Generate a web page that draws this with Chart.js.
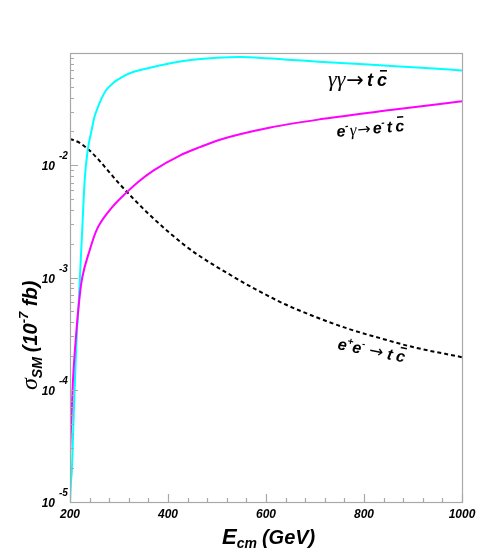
<!DOCTYPE html>
<html>
<head>
<meta charset="utf-8">
<script src="https://cdn.jsdelivr.net/npm/chart.js@4.4.1/dist/chart.umd.min.js"></script>
<style>
  html, body { margin: 0; padding: 0; background: #fff; }
</style>
</head>
<body>
<canvas id="chart" width="491" height="553"></canvas>
<script>
// gamma gamma -> t cbar
var ggEnergy = [200, 202, 204, 207, 210, 214, 218, 221, 225, 230, 236, 244, 250, 257, 265, 274, 290, 308, 330, 370, 410, 451, 500, 547, 600, 717, 800, 900, 1000];
var ggSigma  = [1.0e-5, 1.5e-5, 2.0e-5, 5.0e-5, 1.2e-4, 3.16e-4, 6.3e-4, 1.17e-3, 2.7e-3, 7.4e-3, 1.35e-2, 2.04e-2, 2.7e-2, 3.3e-2, 3.98e-2, 4.68e-2, 5.5e-2, 6.17e-2, 6.8e-2, 7.5e-2, 8.17e-2, 8.7e-2, 9.06e-2, 9.2e-2, 9.0e-2, 8.3e-2, 7.94e-2, 7.46e-2, 7.0e-2];

// e- gamma -> e- t cbar
var egEnergy = [200, 206, 213, 221, 225, 240, 254, 281, 315, 339, 370, 424, 465, 506, 609, 717, 854, 1000];
var egSigma  = [2.7e-5, 1.2e-4, 3.3e-4, 7.6e-4, 1.0e-3, 1.74e-3, 2.63e-3, 3.98e-3, 5.7e-3, 7.1e-3, 8.97e-3, 1.22e-2, 1.45e-2, 1.69e-2, 2.17e-2, 2.59e-2, 3.1e-2, 3.71e-2];

// e+ e- -> t cbar
var eeEnergy = [200, 220, 240, 260, 280, 300, 330, 360, 400, 430, 462, 520, 580, 640, 700, 770, 833, 900, 1000];
var eeSigma  = [1.72e-2, 1.58e-2, 1.35e-2, 1.10e-2, 8.7e-3, 6.9e-3, 5.0e-3, 3.7e-3, 2.57e-3, 2.0e-3, 1.58e-3, 1.10e-3, 7.8e-4, 5.75e-4, 4.47e-4, 3.47e-4, 2.88e-4, 2.40e-4, 1.95e-4];

var xTickLabels = [200, 400, 600, 800, 1000];
var xMinorStep = 40;
var yDecades = [-5, -4, -3, -2];

function pts(xs, ys) {
  return xs.map(function (x, i) { return { x: x, y: ys[i] }; });
}

function bi(size) {
  return 'italic bold ' + size + 'px "Liberation Sans", Arial, sans-serif';
}
function greek(size) {
  return 'italic ' + size + 'px "Liberation Serif", "DejaVu Serif", serif';
}
function plain(size) {
  return size + 'px "DejaVu Sans", sans-serif';
}

// draw a list of text pieces one after another on one baseline
function drawRuns(ctx, x, y, runs) {
  runs.forEach(function (r) {
    ctx.font = r.font;
    x += r.gap || 0;
    var yy = y + (r.dy || 0);
    ctx.fillText(r.text, x, yy);
    var w = ctx.measureText(r.text).width;
    if (r.bar) {
      ctx.fillRect(x + w * 0.3, yy - r.bar, w * 0.7, 1.6);
    }
    x += w;
  });
}

var framePlugin = {
  id: 'frame',
  afterDraw: function (chart) {
    var ctx = chart.ctx;
    var a = chart.chartArea;
    var xs = chart.scales.x, ys = chart.scales.y;
    ctx.save();
    ctx.strokeStyle = '#a8a8a8';
    ctx.lineWidth = 1.2;
    ctx.strokeRect(a.left + 0.5, a.top + 0.5, a.right - a.left, a.bottom - a.top);

    // x ticks, pointing up into the plot
    ctx.beginPath();
    for (var v = xs.min; v <= xs.max; v += xMinorStep) {
      var px = Math.round(xs.getPixelForValue(v)) + 0.5;
      var len = xTickLabels.indexOf(v) >= 0 ? 8 : 4;
      ctx.moveTo(px, a.bottom);
      ctx.lineTo(px, a.bottom - len);
    }
    // y ticks, pointing right into the plot
    yDecades.concat([-1]).forEach(function (e) {
      for (var m = 1; m <= 9; m++) {
        var val = m * Math.pow(10, e);
        if (val > ys.max * 1.0001 || val < ys.min * 0.9999) continue;
        var py = Math.round(ys.getPixelForValue(val)) + 0.5;
        var len = m === 1 ? 8 : 4;
        ctx.moveTo(a.left, py);
        ctx.lineTo(a.left + len, py);
      }
    });
    ctx.stroke();

    ctx.fillStyle = '#000';
    // x tick labels
    ctx.textAlign = 'center';
    ctx.font = bi(12);
    xTickLabels.forEach(function (v) {
      ctx.fillText(String(v), xs.getPixelForValue(v), 518);
    });
    // y tick labels 10^n
    yDecades.forEach(function (e) {
      var py = ys.getPixelForValue(Math.pow(10, e));
      ctx.textAlign = 'right';
      ctx.font = bi(12);
      ctx.fillText('10', 55, py + 5);
      ctx.textAlign = 'left';
      ctx.font = bi(10);
      ctx.fillText(String(e), 59, py - 6);
    });

    // x axis title
    ctx.textAlign = 'left';
    drawRuns(ctx, 222, 544, [
      { text: 'E', font: bi(22) },
      { text: 'cm', font: bi(14), dy: 4 },
      { text: '(GeV)', font: bi(20), gap: 5 }
    ]);

    // y axis title
    ctx.save();
    ctx.translate(37, 390);
    ctx.rotate(-Math.PI / 2);
    drawRuns(ctx, 0, 0, [
      { text: 'σ', font: greek(24) },
      { text: 'SM', font: bi(14), dy: 5 },
      { text: '(10', font: bi(20), gap: 5 },
      { text: '-7', font: bi(13), dy: -9 },
      { text: ' fb)', font: bi(20) }
    ]);
    ctx.restore();

    // curve labels
    drawRuns(ctx, 328, 86, [
      { text: 'γγ', font: greek(22) },
      { text: '→', font: plain(21), gap: 1, dy: 1 },
      { text: 't', font: bi(18), gap: 3 },
      { text: 'c', font: bi(18), gap: 4, bar: 16 }
    ]);

    ctx.save();
    ctx.translate(337, 137);
    ctx.rotate(-0.09);
    drawRuns(ctx, 0, 0, [
      { text: 'e', font: bi(16) },
      { text: '-', font: bi(10), dy: -7 },
      { text: 'γ', font: greek(17), gap: 1 },
      { text: '→', font: plain(16), gap: 1 },
      { text: 'e', font: bi(16), gap: 2 },
      { text: '-', font: bi(10), dy: -7 },
      { text: 't', font: bi(16), gap: 2 },
      { text: 'c', font: bi(16), gap: 3, bar: 15 }
    ]);
    ctx.restore();

    ctx.save();
    ctx.translate(337, 349);
    ctx.rotate(0.2);
    drawRuns(ctx, 0, 0, [
      { text: 'e', font: bi(16) },
      { text: '+', font: bi(10), dy: -7 },
      { text: 'e', font: bi(16) },
      { text: '-', font: bi(10), dy: -7 },
      { text: '→', font: plain(17), gap: 5 },
      { text: 't', font: bi(16), gap: 4 },
      { text: 'c', font: bi(16), gap: 4, bar: 15 }
    ]);
    ctx.restore();

    ctx.restore();
  }
};

var ctx = document.getElementById('chart');

var chartGraph = new Chart(ctx, {
  type: 'line',
  data: {
    datasets: [{
      label: 'e-gamma -> e- t cbar',
      data: pts(egEnergy, egSigma),
      borderColor: '#ff00ff',
      borderWidth: 2,
      pointRadius: 0,
      fill: false,
      cubicInterpolationMode: 'monotone'
    }, {
      label: 'gamma gamma -> t cbar',
      data: pts(ggEnergy, ggSigma),
      borderColor: '#00ffff',
      borderWidth: 2,
      pointRadius: 0,
      fill: false,
      cubicInterpolationMode: 'monotone'
    }, {
      label: 'e+e- -> t cbar',
      data: pts(eeEnergy, eeSigma),
      borderColor: '#000000',
      borderWidth: 2,
      borderDash: [4, 3],
      pointRadius: 0,
      fill: false,
      cubicInterpolationMode: 'monotone'
    }]
  },
  options: {
    responsive: false,
    animation: false,
    devicePixelRatio: 1,
    layout: { padding: { left: 70, top: 53, right: 29, bottom: 51 } },
    plugins: { legend: { display: false }, tooltip: { enabled: false } },
    scales: {
      x: { type: 'linear', min: 200, max: 1000, display: false },
      y: { type: 'logarithmic', min: 1e-5, max: 1e-1, display: false }
    }
  },
  plugins: [framePlugin]
});
</script>
</body>
</html>
